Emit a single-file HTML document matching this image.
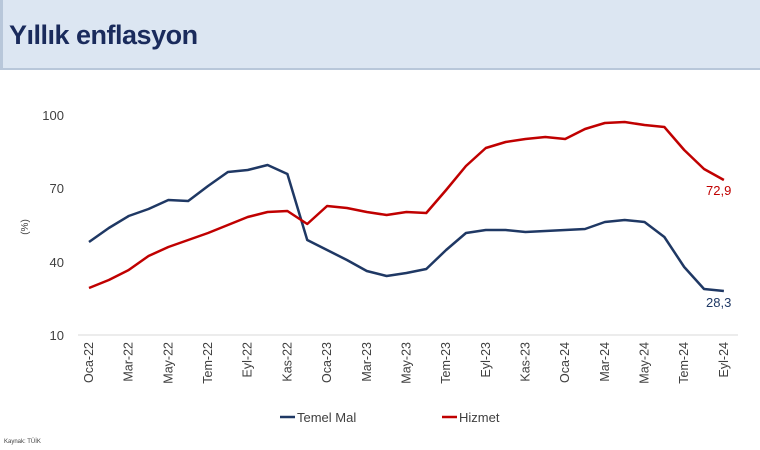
<!DOCTYPE html>
<html><head><meta charset="utf-8"><style>
body{margin:0;width:760px;height:450px;background:#fff;font-family:"Liberation Sans",sans-serif;overflow:hidden}
.hd{position:absolute;left:0;top:0;width:760px;height:70px;background:#dce6f2;border-bottom:2px solid #b8c7da;border-left:3px solid #b8c7da;box-sizing:border-box}
.hd span{position:absolute;left:6px;top:20px;font-size:27px;font-weight:bold;color:#1a2b5c;letter-spacing:-0.5px}
</style></head><body>
<div class="hd"><span>Yıllık enflasyon</span></div>
<svg width="760" height="450" style="position:absolute;left:0;top:0">
<line x1="78" y1="335" x2="738" y2="335" stroke="#d9d9d9" stroke-width="1"/>
<g font-size="13" fill="#404040" text-anchor="end">
<text x="64" y="120">100</text><text x="64" y="193">70</text><text x="64" y="267">40</text><text x="64" y="340">10</text>
</g>
<text x="28" y="227" font-size="10" fill="#404040" transform="rotate(-90 28 227)" text-anchor="middle">(%)</text>
<g font-size="12.5" fill="#404040" text-anchor="end" id="xl"></g>
<polyline id="t" fill="none" stroke="#1f3864" stroke-width="2.5" stroke-linejoin="round"/>
<polyline id="h" fill="none" stroke="#c00000" stroke-width="2.5" stroke-linejoin="round"/>
<text x="706" y="195" font-size="13" fill="#c00000">72,9</text>
<text x="706" y="307" font-size="13" fill="#1f3864">28,3</text>
<line x1="280" y1="417" x2="295" y2="417" stroke="#1f3864" stroke-width="2.5"/>
<text x="297" y="422" font-size="13" fill="#404040">Temel Mal</text>
<line x1="442" y1="417" x2="457" y2="417" stroke="#c00000" stroke-width="2.5"/>
<text x="459" y="422" font-size="13" fill="#404040">Hizmet</text>
<text x="4" y="443" font-size="6" fill="#404040">Kaynak: TÜİK</text>
</svg>
<script>
var T=[242,228,216,209,200,201,186,172,170,165,174,240,250,260,271,276,273,269,250,233,230,230,232,231,230,229,222,220,222,237,267,289,291];
var H=[288,280,270,256,247,240,233,225,217,212,211,224,206,208,212,215,212,213,190,166,148,142,139,137,139,129,123,122,125,127,150,169,180];
function x(i){return 89+i*19.84}
document.getElementById('t').setAttribute('points',T.map((v,i)=>x(i)+','+v).join(' '));
document.getElementById('h').setAttribute('points',H.map((v,i)=>x(i)+','+v).join(' '));
var L=["Oca-22","Mar-22","May-22","Tem-22","Eyl-22","Kas-22","Oca-23","Mar-23","May-23","Tem-23","Eyl-23","Kas-23","Oca-24","Mar-24","May-24","Tem-24","Eyl-24"];
var g=document.getElementById('xl'),s='';
L.forEach((l,k)=>{var xx=x(k*2)+4;s+='<text x="'+xx+'" y="342" transform="rotate(-90 '+xx+' 342)">'+l+'</text>'});
g.innerHTML=s;
</script>
</body></html>
